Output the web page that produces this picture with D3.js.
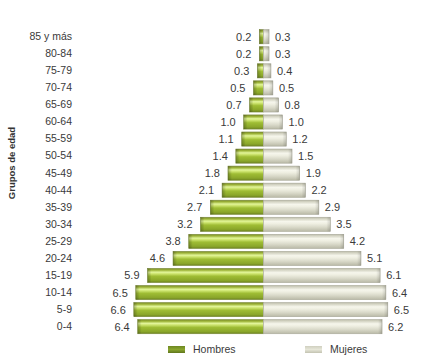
<!DOCTYPE html>
<html><head><meta charset="utf-8">
<script src="https://cdn.jsdelivr.net/npm/d3@7"></script>
<style>
html,body{margin:0;padding:0;background:#fff;}
svg{display:block;font-family:"Liberation Sans",Arial,sans-serif;}
</style></head>
<body>
<svg id="chart" width="428" height="358"></svg>
<script>
// Population by age group (percent)
const ageGroups = ["85 y más","80-84","75-79","70-74","65-69","60-64","55-59","50-54","45-49","40-44","35-39","30-34","25-29","20-24","15-19","10-14","5-9","0-4"];
const hombres = [0.2,0.2,0.3,0.5,0.7,1.0,1.1,1.4,1.8,2.1,2.7,3.2,3.8,4.6,5.9,6.5,6.6,6.4];
const mujeres = [0.3,0.3,0.4,0.5,0.8,1.0,1.2,1.5,1.9,2.2,2.9,3.5,4.2,5.1,6.1,6.4,6.5,6.2];
const seriesNames = ["Hombres","Mujeres"];

const svg = d3.select("#chart");
const cx = 263.3;

const y = d3.scaleBand().domain(ageGroups).range([28.2, 335.2]).paddingInner(0.17).paddingOuter(0.085);
const xL = d3.scaleLinear().domain([0, 6.6]).range([cx, cx - 129.5]);
const xR = d3.scaleLinear().domain([0, 6.5]).range([cx, cx + 124.5]);

const defs = svg.append("defs");
function grad(id, stops) {
  const g = defs.append("linearGradient").attr("id", id).attr("x1",0).attr("y1",0).attr("x2",0).attr("y2",1);
  stops.forEach(s => g.append("stop").attr("offset", s[0]).attr("stop-color", s[1]));
}
grad("gMen", [[0,"#7c8c2a"],[0.12,"#9db438"],[0.27,"#e2f59a"],[0.37,"#cfe672"],[0.55,"#9fbd34"],[0.85,"#8aa62a"],[1,"#6e8421"]]);
grad("gWomen", [[0,"#bdbdaa"],[0.12,"#d6d6c6"],[0.3,"#f6f6ec"],[0.45,"#efefe2"],[0.7,"#d9d9c9"],[1,"#b9b9a6"]]);
grad("gMenLeg", [[0,"#6d8722"],[0.5,"#8aa52e"],[1,"#5f761c"]]);
grad("gWomenLeg", [[0,"#cfcfbf"],[0.5,"#e6e6d8"],[1,"#c3c3b1"]]);
// darker end cap shading
const cap = defs.append("linearGradient").attr("id","capL").attr("x1",0).attr("x2",1).attr("y1",0).attr("y2",0);
cap.append("stop").attr("offset",0).attr("stop-color","#000").attr("stop-opacity",0.25);
cap.append("stop").attr("offset",1).attr("stop-color","#000").attr("stop-opacity",0);
const capR = defs.append("linearGradient").attr("id","capR").attr("x1",1).attr("x2",0).attr("y1",0).attr("y2",0);
capR.append("stop").attr("offset",0).attr("stop-color","#000").attr("stop-opacity",0.15);
capR.append("stop").attr("offset",1).attr("stop-color","#000").attr("stop-opacity",0);

const bh = y.bandwidth();

// Men bars (left)
const men = svg.append("g");
men.selectAll("rect.bar").data(ageGroups).join("rect").attr("class","bar")
  .attr("x", (d,i) => xL(hombres[i])).attr("y", d => y(d))
  .attr("width", (d,i) => xL(0) - xL(hombres[i])).attr("height", bh)
  .attr("fill","url(#gMen)").attr("stroke","#7a8a3a").attr("stroke-width",0.6);
men.selectAll("rect.cap").data(ageGroups).join("rect").attr("class","cap")
  .attr("x", (d,i) => xL(hombres[i])).attr("y", d => y(d))
  .attr("width", (d,i) => Math.min(4, xL(0) - xL(hombres[i]))).attr("height", bh)
  .attr("fill","url(#capL)");

// Women bars (right)
const women = svg.append("g");
women.selectAll("rect.bar").data(ageGroups).join("rect").attr("class","bar")
  .attr("x", xR(0)).attr("y", d => y(d))
  .attr("width", (d,i) => xR(mujeres[i]) - xR(0)).attr("height", bh)
  .attr("fill","url(#gWomen)").attr("stroke","#a9a999").attr("stroke-width",0.6);
women.selectAll("rect.cap").data(ageGroups).join("rect").attr("class","cap")
  .attr("x", (d,i) => xR(mujeres[i]) - Math.min(4, xR(mujeres[i]) - xR(0))).attr("y", d => y(d))
  .attr("width", (d,i) => Math.min(4, xR(mujeres[i]) - xR(0))).attr("height", bh)
  .attr("fill","url(#capR)");

// Value labels
svg.append("g").selectAll("text").data(ageGroups).join("text")
  .attr("x", (d,i) => xL(hombres[i]) - 8).attr("y", d => y(d) + bh/2)
  .attr("dy","0.36em").attr("text-anchor","end")
  .attr("font-size",11).attr("fill","#3a3a3a")
  .text((d,i) => hombres[i].toFixed(1));
svg.append("g").selectAll("text").data(ageGroups).join("text")
  .attr("x", (d,i) => xR(mujeres[i]) + 6).attr("y", d => y(d) + bh/2)
  .attr("dy","0.36em").attr("text-anchor","start")
  .attr("font-size",11).attr("fill","#3a3a3a")
  .text((d,i) => mujeres[i].toFixed(1));

// Age group axis labels
const yAxis = d3.axisLeft(y).tickSize(0).tickPadding(0);
const ga = svg.append("g").attr("transform","translate(72,0)").call(yAxis);
ga.select(".domain").remove();
ga.selectAll("text").attr("font-size",10.5).attr("fill","#3a3a3a").attr("font-family","Liberation Sans, Arial, sans-serif");

// Axis title
svg.append("text").attr("transform","translate(15,163) rotate(-90)")
  .attr("text-anchor","middle").attr("font-size",9.5).attr("font-weight","bold").attr("fill","#333")
  .text("Grupos de edad");

// Legend
const legend = svg.append("g");
const legX = [168, 305];
const legFill = ["url(#gMenLeg)","url(#gWomenLeg)"];
seriesNames.forEach((name, i) => {
  legend.append("rect").attr("x", legX[i]).attr("y", 346).attr("width", 17).attr("height", 7).attr("fill", legFill[i]);
  legend.append("text").attr("x", legX[i] + 25).attr("y", 349.5).attr("dy","0.36em")
    .attr("font-size",10.5).attr("fill","#3a3a3a").text(name);
});
</script>
</body></html>
